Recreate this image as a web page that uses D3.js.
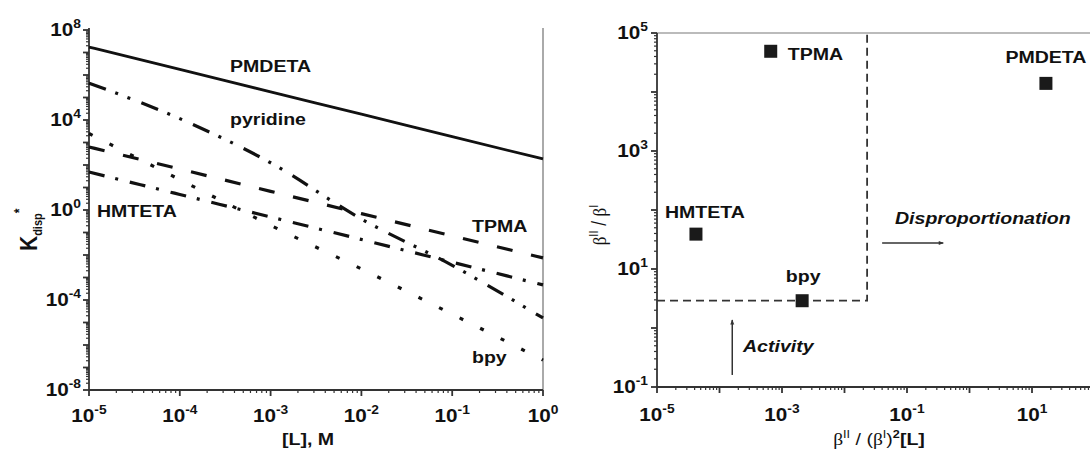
<!DOCTYPE html>
<html><head><meta charset="utf-8">
<script src="https://cdn.jsdelivr.net/npm/d3@7"></script>
<style>body{margin:0;background:#fff}svg{display:block}</style>
</head><body>
<svg id="c" width="1090" height="450"></svg>
<script>
// ---------- Left panel data: log10(K_disp*) at decade values of [L] ----------
const ligandConc = [1e-5, 1e-4, 1e-3, 1e-2, 1e-1, 1];
const pmdetaLogK = [7.24, 6.25, 5.25, 4.26, 3.26, 2.27];
const pyridineLogK = [5.64, 4.06, 2.1, -0.4, -2.46, -4.8];
const tpmaLogK = [2.8, 1.82, 0.83, -0.16, -1.15, -2.13];
const hmtetaLogK = [1.69, 0.69, -0.31, -1.31, -2.32, -3.33];
const bpyLogK = [3.4, 1.35, -0.68, -2.62, -4.63, -6.67];
const leftSeriesNames = ["PMDETA", "pyridine", "TPMA", "HMTETA", "bpy"];
const leftYTickExps = [-8, -4, 0, 4, 8];
const leftXTickExps = [-5, -4, -3, -2, -1, 0];

// ---------- Right panel data ----------
const ligands = ["TPMA", "PMDETA", "HMTETA", "bpy"];
const betaRatioX = [6.6e-4, 16.7, 4.2e-5, 2.1e-3];   // beta_II/(beta_I)^2[L]
const betaRatioY = [4.9e4, 1.4e4, 39, 2.9];         // beta_II/beta_I
const activityThreshold = 2.9;
const dispThreshold = 0.023;
const rightYTickExps = [-1, 1, 3, 5];
const rightXTickExps = [-5, -3, -1, 1];

const SX = 1.15;
const FONT = "'Liberation Sans', Arial, sans-serif";
const svg = d3.select("#c");

const xL = d3.scaleLog().domain([1e-5, 1]).range([89, 543]);
const yL = d3.scaleLog().domain([1e-8, 1e8]).range([390, 30]);
const xR = d3.scaleLog().domain([1e-5, 1e2]).range([657, 1094.5]);
const yR = d3.scaleLog().domain([0.1, 1e5]).range([387, 33]);

function txt(g, x, y, s, o = {}) {
  const t = g.append("text")
    .attr("transform", `translate(${x},${y}) scale(${SX},1)`)
    .attr("font-family", FONT)
    .attr("font-weight", o.weight || "bold")
    .attr("font-size", o.size || 17)
    .attr("font-style", o.style || "normal")
    .attr("text-anchor", o.anchor || "start")
    .attr("fill", "#111");
  if (s !== null) t.text(s);
  return t;
}
function powLabel(g, x, y, e, anchor) {
  const t = txt(g, x, y, null, { anchor: anchor, size: 18 });
  t.append("tspan").text("10");
  t.append("tspan").attr("dy", -8).attr("font-size", 12).text(String(e));
  return t;
}

function logAxis(g, scale, orient, lo, hi, pos, clipMax) {
  const col = "#333";
  for (let d = lo; d <= hi; d++) {
    for (let m = 1; m <= 9; m++) {
      const v = m * Math.pow(10, d);
      if (d === hi && m > 1) break;
      const p = scale(v);
      if (clipMax && p > clipMax) continue;
      const len = m === 1 ? 6 : 3;
      if (orient === "left") {
        g.append("line").attr("x1", pos - len).attr("x2", pos).attr("y1", p).attr("y2", p)
          .attr("stroke", col).attr("stroke-width", m === 1 ? 1.8 : 1.2);
      } else {
        g.append("line").attr("y1", pos).attr("y2", pos + len).attr("x1", p).attr("x2", p)
          .attr("stroke", col).attr("stroke-width", m === 1 ? 1.8 : 1.2);
      }
    }
  }
}

// ================= LEFT PANEL =================
const gl = svg.append("g");
gl.append("line").attr("x1", xL(1)).attr("x2", xL(1)).attr("y1", yL(1e8) - 2).attr("y2", yL(1e-8))
  .attr("stroke", "#aaa").attr("stroke-width", 2);
gl.append("line").attr("x1", xL(1e-5)).attr("x2", xL(1e-5)).attr("y1", yL(1e8) - 2).attr("y2", yL(1e-8))
  .attr("stroke", "#333").attr("stroke-width", 1.8);
gl.append("line").attr("x1", xL(1e-5)).attr("x2", xL(1)).attr("y1", yL(1e-8)).attr("y2", yL(1e-8))
  .attr("stroke", "#333").attr("stroke-width", 1.8);
logAxis(gl, yL, "left", -8, 8, xL(1e-5));
logAxis(gl, xL, "bottom", -5, 0, yL(1e-8));
leftYTickExps.forEach(e => powLabel(gl, xL(1e-5) - 8, yL(Math.pow(10, e)) + 6, e, "end"));
leftXTickExps.forEach(e => powLabel(gl, xL(Math.pow(10, e)), 422, e, "middle"));

const leftSeries = [pmdetaLogK, pyridineLogK, tpmaLogK, hmtetaLogK, bpyLogK];
const dashes = [null, "18,10,3,10,3,12", "16,19", "16,11,3,12", "4,19"];
const lineGen = d3.line().x(d => xL(d[0])).y(d => yL(d[1])).curve(d3.curveMonotoneX);
leftSeries.forEach((s, i) => {
  const pts = ligandConc.map((c, j) => [c, Math.pow(10, s[j])]);
  gl.append("path").attr("d", lineGen(pts)).attr("fill", "none")
    .attr("stroke", "#111").attr("stroke-width", i === 0 ? 2.8 : 3.2)
    .attr("stroke-dasharray", dashes[i]);
});
const leftLabelPos = [[230, 72], [230, 125], [472, 232], [97, 217], [472, 363]];
leftSeriesNames.forEach((n, i) => txt(gl, leftLabelPos[i][0], leftLabelPos[i][1], n));

// y title  K_disp*
const ky = txt(gl, 0, 0, null, { size: 21, anchor: "start" })
  .attr("transform", `translate(37,251) rotate(-90) scale(1,${SX})`);
ky.append("tspan").text("K");
ky.append("tspan").attr("font-size", 11).attr("dy", 4).text("disp");
ky.append("tspan").attr("font-size", 12).attr("dy", -15).text("*");
// x title
txt(gl, 308, 445, "[L], M", { anchor: "middle" });

// ================= RIGHT PANEL =================
const gr = svg.append("g");
gr.append("line").attr("x1", xR(1e-5)).attr("x2", 1090).attr("y1", yR(1e5)).attr("y2", yR(1e5))
  .attr("stroke", "#bbb").attr("stroke-width", 2);
gr.append("line").attr("x1", xR(1e-5)).attr("x2", xR(1e-5)).attr("y1", yR(1e5)).attr("y2", yR(0.1))
  .attr("stroke", "#333").attr("stroke-width", 1.8);
gr.append("line").attr("x1", xR(1e-5)).attr("x2", 1090).attr("y1", yR(0.1)).attr("y2", yR(0.1))
  .attr("stroke", "#333").attr("stroke-width", 1.8);
logAxis(gr, yR, "left", -1, 5, xR(1e-5));
logAxis(gr, xR, "bottom", -5, 2, yR(0.1), 1090);
rightYTickExps.forEach(e => powLabel(gr, xR(1e-5) - 9, yR(Math.pow(10, e)) + 6, e, "end"));
rightXTickExps.forEach(e => powLabel(gr, xR(Math.pow(10, e)), 421, e, "middle"));

// threshold dashed boundary
const bnd = d3.line().x(d => xR(d[0])).y(d => yR(d[1]));
gr.append("path")
  .attr("d", bnd([[1e-5, activityThreshold], [dispThreshold, activityThreshold], [dispThreshold, 1e5]]))
  .attr("fill", "none").attr("stroke", "#333").attr("stroke-width", 1.8)
  .attr("stroke-dasharray", "8,5");

// points
ligands.forEach((n, i) => {
  gr.append("rect").attr("x", xR(betaRatioX[i]) - 6.5).attr("y", yR(betaRatioY[i]) - 6.5)
    .attr("width", 13).attr("height", 13).attr("fill", "#1a1a1a");
});
const rightLabelOff = [[17, 9, "start"], [0, -20, "middle"], [-31, -16, "start"], [1, -19, "middle"]];
ligands.forEach((n, i) => {
  const o = rightLabelOff[i];
  txt(gr, xR(betaRatioX[i]) + o[0], yR(betaRatioY[i]) + o[1], n, { anchor: o[2] });
});

// arrows
const defs = svg.append("defs");
defs.append("marker").attr("id", "ah").attr("viewBox", "0 0 10 10").attr("refX", 9).attr("refY", 5)
  .attr("markerWidth", 7).attr("markerHeight", 5).attr("orient", "auto").attr("markerUnits", "userSpaceOnUse")
  .append("path").attr("d", "M0,1 L10,5 L0,9 z").attr("fill", "#333");
gr.append("line").attr("x1", xR(1.6e-4)).attr("x2", xR(1.6e-4)).attr("y1", yR(0.16)).attr("y2", yR(1.37))
  .attr("stroke", "#333").attr("stroke-width", 1.5).attr("marker-end", "url(#ah)");
gr.append("line").attr("x1", xR(0.04)).attr("x2", xR(0.38)).attr("y1", yR(27.5)).attr("y2", yR(27.5))
  .attr("stroke", "#333").attr("stroke-width", 1.5).attr("marker-end", "url(#ah)");
txt(gr, 743, 352, "Activity", { style: "italic" });
txt(gr, 895, 224, "Disproportionation", { style: "italic" });

// axis titles (right)
const SERIF = "'Liberation Serif', 'DejaVu Serif', serif";
const xt = txt(gr, 879, 445, null, { anchor: "middle", weight: "normal" });
xt.append("tspan").attr("font-family", SERIF).text("β");
xt.append("tspan").attr("font-size", 11).attr("dy", -7).text("II");
xt.append("tspan").attr("dy", 7).text(" / (");
xt.append("tspan").attr("font-family", SERIF).text("β");
xt.append("tspan").attr("font-size", 11).attr("dy", -7).text("I");
xt.append("tspan").attr("dy", 7).text(")");
xt.append("tspan").attr("font-size", 11).attr("dy", -7).attr("font-weight", "bold").text("2");
xt.append("tspan").attr("dy", 7).attr("font-weight", "bold").text("[L]");

const yt = txt(gr, 0, 0, null, { anchor: "middle", weight: "normal" })
  .attr("transform", `translate(606,225) rotate(-90) scale(1,${SX})`);
yt.append("tspan").attr("font-family", SERIF).text("β");
yt.append("tspan").attr("font-size", 11).attr("dy", -7).text("II");
yt.append("tspan").attr("dy", 7).text(" / ");
yt.append("tspan").attr("font-family", SERIF).text("β");
yt.append("tspan").attr("font-size", 11).attr("dy", -7).text("I");
</script>
</body></html>
